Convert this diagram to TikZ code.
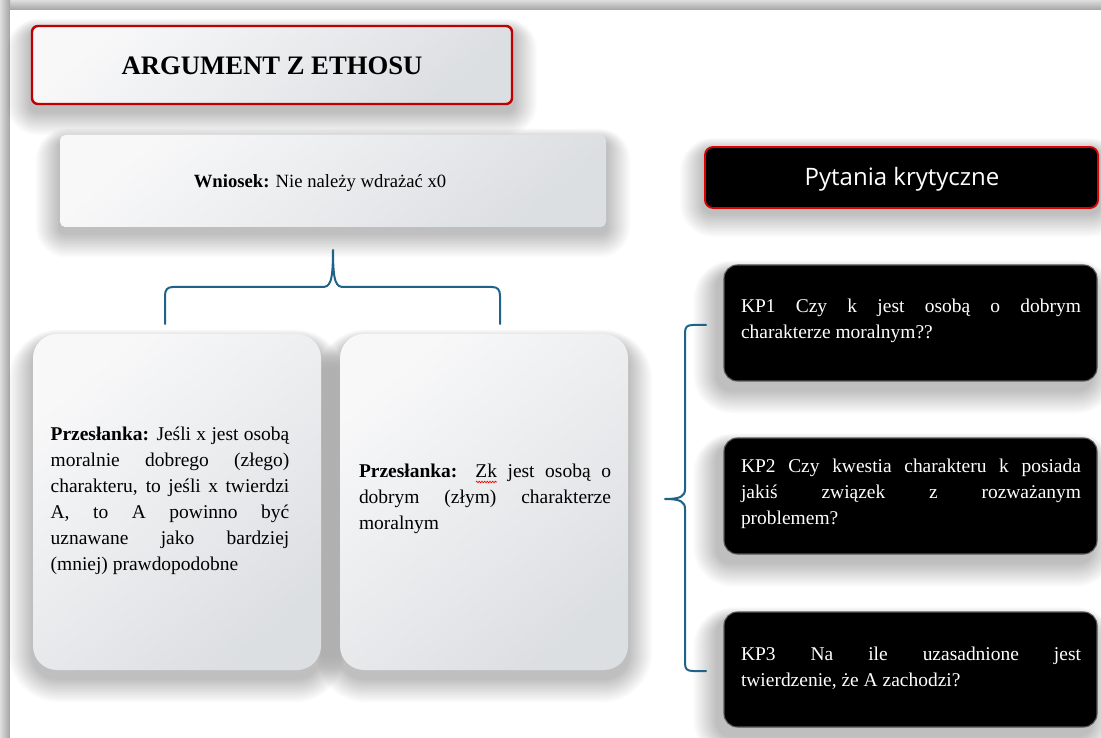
\documentclass[tikz,border=0pt]{standalone}
\usepackage{fontspec}
\setmainfont{Liberation Serif}
\newfontfamily\pkfont{Open Sans}
\usetikzlibrary{calc,decorations.pathmorphing}
\pgfdeclarelayer{page}
\pgfdeclarelayer{shadow}
\pgfsetlayers{page,shadow,main}
\definecolor{boxA}{HTML}{F8F8F9}
\definecolor{boxB}{HTML}{DCDFE2}
\definecolor{titlered}{HTML}{C00000}
\definecolor{pkred}{HTML}{E00000}
\definecolor{braceblue}{HTML}{1F6488}
\tikzset{
  lightbox/.style={top color=boxA, bottom color=boxB, shading angle=40, inner sep=0pt},
  titlebox/.style={lightbox, draw=titlered, line width=1.8pt, rounded corners=4.5pt, minimum width=360pt, minimum height=58.5pt},
  concbox/.style={lightbox, rounded corners=4pt, minimum width=409.5pt, minimum height=69pt},
  premisebox/.style={lightbox, rounded corners=18pt, minimum width=216pt, minimum height=252pt},
  pkbox/.style={fill=black, draw=pkred, line width=1.4pt, rounded corners=6pt, minimum width=294.75pt, minimum height=45.75pt, inner sep=0pt},
  kpbox/.style={fill=black, draw=black!65, line width=0.8pt, rounded corners=10pt, minimum width=279.75pt, inner sep=0pt},
  bodytext/.style={font=\fontsize{14.6}{19.5}\selectfont, align=justify, inner sep=0pt},
  kptext/.style={bodytext, text=white, text width=255pt},
  brace/.style={draw=braceblue, line width=1.5pt, line cap=round, line join=round},
  spellmark/.style={draw=red, line width=0.5pt, decorate, decoration={zigzag, amplitude=0.6pt, segment length=2pt}}
}
% soft shadow: node name, corner radius (pt), x shift (px), y shift (px)
\newcommand{\softshadow}[4]{%
  \begin{pgfonlayer}{shadow}
  \foreach \i in {1,...,16} {
    \pgfmathsetmacro{\rr}{#2+1.2*\i}
    \pgfmathsetmacro{\dd}{1.5*\i}
    \fill[black, opacity=0.017, rounded corners=\rr pt]
      ($(#1.south west)+(#3-\dd,#4+\dd)$) rectangle ($(#1.north east)+(#3+\dd,#4-\dd*0.5)$);
  }
  \end{pgfonlayer}}
\begin{document}
\begin{tikzpicture}[x=0.75pt, y=-0.75pt]
\useasboundingbox (0,0) rectangle (1101,738);
\begin{pgfonlayer}{page}
\fill[white] (0,0) rectangle (1101,738);
\shade[top color=black!13, bottom color=black!36] (0,0) rectangle (1101,10);
\shade[left color=black!13, right color=black!36] (0,0) rectangle (10,738);
\fill[white] (10,10) rectangle (1101,738);
\end{pgfonlayer}

% boxes
\node[titlebox] (title) at (272,65) {};
\node[font=\fontsize{20}{24}\selectfont\bfseries, inner sep=0pt] (titletext) at (272,66) {ARGUMENT Z ETHOSU};
\softshadow{title}{4.5}{0}{6}

\node[concbox] (conc) at (333,181) {};
\node[font=\fontsize{14}{17}\selectfont, inner sep=0pt] (conctext) at (320,183) {\textbf{Wniosek:} Nie należy wdrażać x0};
\softshadow{conc}{4}{0}{6}

\node[premisebox] (p1) at (177,502) {};
\node[bodytext, text width=179pt] (p1text) at (170,501) {\textbf{Przesłanka:} Jeśli x jest osobą\linebreak moralnie dobrego (złego)\linebreak charakteru, to jeśli x twierdzi\linebreak A, to A powinno być\linebreak uznawane jako bardziej\linebreak (mniej) prawdopodobne};
\softshadow{p1}{18}{0}{8}

\node[premisebox] (p2) at (484,502) {};
\node[bodytext, text width=189pt] (p2text) at (485,499) {\textbf{Przesłanka:} Zk jest osobą o\linebreak dobrym (złym) charakterze\linebreak moralnym};
\softshadow{p2}{18}{0}{8}
\coordinate (zk1) at (476,482);
\coordinate (zk2) at (497,482);
\draw[spellmark] (zk1) -- (zk2);

\node[pkbox] (pk) at (901.5,177.5) {};
\node[font=\pkfont\fontsize{18}{22}\selectfont, text=white, inner sep=0pt] (pktext) at (902,179) {Pytania krytyczne};
\softshadow{pk}{6}{0}{4}

\node[kpbox, minimum height=87pt] (kp1) at (910.5,323) {};
\node[kptext] (kp1text) at (911,321) {KP1 Czy k jest osobą o dobrym\linebreak charakterze moralnym??};
\softshadow{kp1}{10}{-6}{8}

\node[kpbox, minimum height=87pt] (kp2) at (910.5,496) {};
\node[kptext] (kp2text) at (911,494) {KP2 Czy kwestia charakteru k posiada\linebreak jakiś związek z rozważanym\linebreak problemem?};
\softshadow{kp2}{10}{-6}{8}

\node[kpbox, minimum height=86.25pt] (kp3) at (910.5,669.5) {};
\node[kptext] (kp3text) at (911,668) {KP3 Na ile uzasadnione jest\linebreak twierdzenie, że A zachodzi?};
\softshadow{kp3}{10}{-6}{8}

% top brace
\coordinate (tb1) at (165,324);
\coordinate (tb2) at (500,324);
\coordinate (ttip) at (333,250);
\draw[brace] (tb1) -- (165,296) .. controls (165,290) and (167,287) .. (173,287) -- (322,287)
  .. controls (330,287) and (333,283) .. (ttip)
  .. controls (333,283) and (336,287) .. (344,287) -- (492,287)
  .. controls (498,287) and (500,290) .. (500,296) -- (tb2);

% right brace
\coordinate (rb1) at (706,325);
\coordinate (rb2) at (706,671);
\coordinate (rtip) at (665,499);
\draw[brace] (rb1) -- (693,325) .. controls (687,325) and (685,327) .. (685,333) -- (685,489)
  .. controls (685,496) and (681,499) .. (rtip)
  .. controls (681,499) and (685,502) .. (685,509) -- (685,663)
  .. controls (685,669) and (687,671) .. (693,671) -- (rb2);
\end{tikzpicture}
\end{document}
